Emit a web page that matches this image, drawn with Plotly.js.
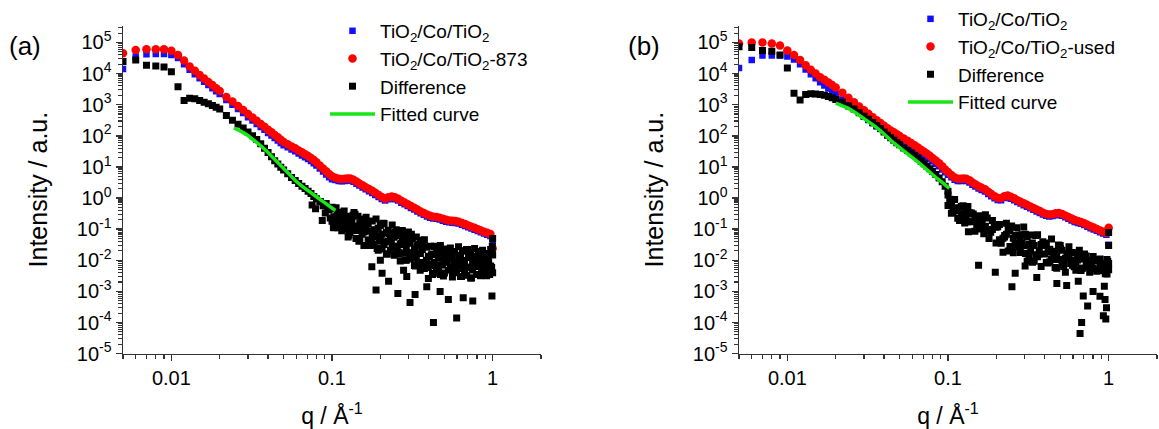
<!DOCTYPE html>
<html>
<head>
<meta charset="utf-8">
<script src="https://cdn.plot.ly/plotly-3.0.1.min.js"></script>
<style>
html,body{margin:0;padding:0;background:#fff;}
#chart{width:1159px;height:429px;}
</style>
</head>
<body>
<div id="chart"></div>
<script>
// ---------- shared q grid (Å^-1) used by the smooth curves ----------
const q = [0.005,0.006,0.007,0.008,0.009,0.010,0.011,0.012,0.013,0.014,0.015,0.016,0.017,0.018,0.019,0.020,
0.022,0.024,0.026,0.028,0.030,0.032,0.034,0.036,0.038,0.040,0.042,0.044,0.046,0.048,0.050,
0.053,0.056,0.059,0.062,0.065,0.068,0.071,0.074,0.077,0.080,0.084,0.088,0.092,0.096,0.100,
0.105,0.110,0.115,0.120,0.125,0.130,0.136,0.142,0.148,0.155,0.162,0.170,0.178,0.186,0.195,
0.204,0.214,0.224,0.235,0.246,0.258,0.270,0.283,0.296,0.310,0.325,0.340,0.356,0.373,0.390,
0.408,0.427,0.447,0.468,0.490,0.513,0.537,0.562,0.588,0.615,0.644,0.674,0.705,0.738,0.772,
0.808,0.845,0.884,0.925,0.968,1.000];

// ---------- panel (a) ----------
const aRef = [1.41e4,3.55e4,4.17e4,4.27e4,4.27e4,3.98e4,3.16e4,2.00e4,1.32e4,9.55e3,7.08e3,5.50e3,4.27e3,3.39e3,2.69e3,2.19e3,
1.41e3,1.00e3,724,537,398,309,240,191,155,123,102,85.1,70.8,58.9,50.1,
42.7,36.3,31.6,26.9,23.4,20.4,17.8,15.5,13.2,11.2,8.91,7.08,5.75,4.68,3.98,
3.80,3.55,3.47,3.55,3.63,3.63,3.31,2.88,2.51,2.19,1.91,1.66,1.45,1.26,1.07,
0.933,0.832,0.912,0.977,0.912,0.832,0.708,0.631,0.550,0.479,0.427,0.372,0.324,0.288,0.257,
0.234,0.219,0.214,0.204,0.186,0.174,0.166,0.162,0.158,0.151,0.138,0.126,0.115,0.105,0.0955,
0.0871,0.0794,0.0724,0.0661,0.0603,0.0355];
const a873 = [4.47e4,5.75e4,6.03e4,6.03e4,6.03e4,5.37e4,3.98e4,2.63e4,1.70e4,1.23e4,8.91e3,6.92e3,5.37e3,4.27e3,3.39e3,2.75e3,
1.78e3,1.26e3,912,676,501,389,302,240,195,155,129,107,89.1,74.1,63.1,
53.7,45.7,39.8,33.9,29.5,25.7,22.4,19.5,16.6,14.1,11.2,8.91,7.24,5.89,5.01,
4.47,4.17,4.07,4.17,4.27,4.27,3.89,3.39,2.95,2.57,2.24,1.95,1.70,1.48,1.26,
1.07,0.955,1.05,1.12,1.05,0.955,0.813,0.724,0.631,0.550,0.490,0.427,0.372,0.331,0.295,
0.269,0.251,0.245,0.234,0.214,0.200,0.191,0.186,0.182,0.174,0.158,0.145,0.132,0.120,0.110,
0.100,0.0912,0.0832,0.0759,0.0692,0.0240];
// difference on the first 46 q values (0.005 - 0.100)
const aDiff = [2.45e4,2.75e4,1.86e4,1.74e4,1.62e4,1.15e4,3.80e3,1.35e3,1.62e3,1.55e3,1.35e3,1.20e3,1.07e3,933,832,724,
447,316,234,178,132,100,75.9,55.0,39.8,28.8,21.4,15.8,12.3,9.77,7.94,
6.03,4.57,3.63,2.95,2.40,2.04,1.66,1.41,1.12,0.955,0.759,0.562,0.661,0.417,0.501];
// scattered difference at high q: readings of the cloud, two per q (upper / lower part)
const aBandQ = [0.100,0.103,0.106,0.109,0.112,0.115,0.119,0.122,0.126,0.129,0.133,0.137,0.141,0.145,0.149,0.154,0.158,0.163,0.168,
0.173,0.178,0.183,0.188,0.194,0.200,0.205,0.211,0.218,0.224,0.231,0.237,0.244,0.251,0.259,0.266,0.274,0.282,0.290,0.299,
0.307,0.316,0.326,0.335,0.345,0.355,0.365,0.376,0.387,0.398,0.410,0.422,0.434,0.447,0.460,0.473,0.487,0.501,0.516,0.531,
0.546,0.562,0.579,0.596,0.613,0.631,0.649,0.668,0.688,0.708,0.729,0.750,0.772,0.794,0.818,0.841,0.866,0.891,0.917,0.944,
0.972,1.000];
const aBandHi = [0.46,0.25,0.49,0.28,0.35,0.21,0.38,0.26,0.148,0.25,0.178,0.34,0.093,0.26,0.158,0.21,0.081,0.24,0.145,0.085,
0.182,0.095,0.21,0.107,0.132,0.069,0.151,0.078,0.093,0.048,0.135,0.055,0.095,0.062,0.032,0.091,0.059,0.023,0.081,0.037,
0.050,0.023,0.056,0.032,0.044,0.022,0.046,0.026,0.0135,0.028,0.016,0.028,0.017,0.012,0.030,0.018,0.0089,0.023,0.0141,0.025,
0.012,0.019,0.0091,0.027,0.0145,0.020,0.0098,0.022,0.0123,0.0174,0.0078,0.024,0.0135,0.019,0.0098,0.021,0.012,0.0166,0.0089,0.022,
0.0148];
const aBandLo = [0.18,0.11,0.18,0.11,0.17,0.089,0.105,0.12,0.056,0.078,0.089,0.123,0.050,0.123,0.048,0.069,0.030,0.107,0.045,0.030,
0.056,0.033,0.058,0.021,0.045,0.023,0.032,0.016,0.041,0.021,0.028,0.0145,0.028,0.018,0.0095,0.039,0.017,0.010,0.035,0.011,
0.017,0.0068,0.0115,0.0078,0.0166,0.0085,0.0054,0.010,0.0059,0.0076,0.0035,0.0085,0.0047,0.0059,0.0035,0.0071,0.0039,0.0112,0.0048,0.0059,
0.0029,0.0074,0.0040,0.0065,0.0030,0.0078,0.0043,0.0033,0.0060,0.0027,0.0049,0.0098,0.0035,0.0063,0.0032,0.0051,0.0071,0.0032,0.0048,0.0066,
0.0040];
const aMid1Q = [0.1045,0.1105,0.117,0.124,0.131,0.139,0.147,0.156,0.166,0.176,0.186,0.197,0.208,0.221,0.234,0.248,0.262,0.278,0.295,0.312,
0.331,0.350,0.370,0.392,0.416,0.440,0.466,0.494,0.523,0.554,0.587,0.622,0.658,0.698,0.739,0.783,0.830,0.878,0.930,0.986];
const aMid1I = [0.219,0.331,0.100,0.204,0.100,0.302,0.041,0.093,0.166,0.036,0.093,0.041,0.155,0.0158,0.042,0.078,0.0158,0.043,0.0174,0.068,
0.0065,0.017,0.0295,0.0062,0.0151,0.0068,0.0275,0.0031,0.0087,0.0174,0.0041,0.0117,0.0054,0.022,0.0027,0.0078,0.0151,0.0042,0.011,0.0059];
const aMid2Q = [0.1075,0.1135,0.1205,0.1275,0.135,0.143,0.1515,0.1605,0.1705,0.1805,0.191,0.2025,0.2145,0.2275,0.2405,0.255,0.270,0.286,0.303,0.321,
0.340,0.360,0.381,0.404,0.428,0.453,0.480,0.508,0.538,0.570,0.604,0.640,0.678,0.718,0.761,0.806,0.854,0.904,0.958,0.993];
const aMid2I = [0.316,0.117,0.182,0.065,0.282,0.091,0.155,0.155,0.044,0.079,0.024,0.145,0.039,0.071,0.072,0.019,0.035,0.0102,0.062,0.0162,
0.0295,0.029,0.0074,0.0129,0.0038,0.0245,0.0072,0.0141,0.0155,0.0046,0.0091,0.0030,0.0204,0.0060,0.0123,0.0135,0.0046,0.0089,0.0035,0.0182];
const aOutQ = [0.0752,0.0790,0.0846,0.0870,0.0908,0.0940,0.0975,0.102,0.177,0.200,0.205,0.225,0.188,0.257,0.279,0.292,0.329,0.306,0.389,0.428,
0.471,0.530,0.597,0.656,0.752,0.990,0.354,0.398,1.000,0.995];
const aOutI = [0.60,0.45,0.77,0.19,0.33,0.42,0.23,0.112,6.2e-3,1.0e-2,3.8e-3,2.1e-3,1.1e-3,8.5e-4,4.8e-3,3.0e-3,7.9e-4,4.4e-4,1.4e-3,1.0e-4,
1.0e-3,5.5e-4,1.4e-4,6.2e-4,4.9e-4,7.1e-4,4.8e-3,2.6e-3,0.05,0.028];
const aFitQ = [0.0245,0.027,0.030,0.033,0.036,0.039,0.042,0.045,0.048,0.051,0.055,0.060,0.065,0.070,0.076,0.082,0.089,0.097,0.105];
const aFitI = [178,141,102,70.8,47.9,33.1,22.4,15.1,10.7,7.76,5.25,3.39,2.40,1.78,1.32,1.00,0.741,0.537,0.398];

// ---------- panel (b) ----------
const bRef = [1.51e4,2.75e4,3.80e4,3.80e4,3.80e4,3.55e4,2.82e4,2.00e4,1.35e4,9.55e3,7.08e3,5.25e3,4.17e3,3.31e3,2.69e3,2.19e3,
1.48e3,1.02e3,741,550,417,324,251,200,166,138,117,102,89.1,79.4,70.8,
60.3,51.3,43.7,37.2,31.6,26.9,23.4,20.4,17.8,15.1,12.6,10.5,8.32,6.76,5.62,
4.68,3.89,3.55,3.55,3.63,3.55,3.16,2.69,2.34,2.04,1.82,1.62,1.35,1.15,0.977,
0.871,0.851,1.00,1.05,0.955,0.851,0.741,0.661,0.589,0.525,0.468,0.417,0.372,0.331,0.295,
0.269,0.257,0.263,0.282,0.288,0.269,0.240,0.214,0.191,0.170,0.158,0.148,0.135,0.120,0.107,
0.0977,0.0891,0.0794,0.0724,0.0661,0.0316];
const bUsed = [9.33e4,1.00e5,1.00e5,9.33e4,7.94e4,5.50e4,3.98e4,2.75e4,1.86e4,1.32e4,1.00e4,7.59e3,6.31e3,5.13e3,4.27e3,3.55e3,
2.40e3,1.66e3,1.20e3,871,661,513,398,316,257,209,174,148,129,112,97.7,
81.3,69.2,58.9,50.1,41.7,35.5,30.9,26.3,22.9,19.5,16.2,13.2,10.5,8.32,6.92,
5.50,4.57,4.17,4.17,4.27,4.17,3.72,3.16,2.75,2.40,2.14,1.91,1.58,1.35,1.15,
1.00,0.977,1.15,1.20,1.10,0.977,0.851,0.759,0.676,0.603,0.537,0.479,0.427,0.380,0.339,
0.309,0.295,0.302,0.324,0.331,0.309,0.275,0.245,0.219,0.195,0.182,0.170,0.155,0.138,0.123,
0.112,0.102,0.0912,0.0832,0.0759,0.110];
const bDiff = [7.24e4,6.92e4,5.50e4,5.25e4,3.98e4,1.51e4,2.34e3,1.41e3,2.14e3,2.24e3,2.19e3,2.14e3,2.00e3,1.82e3,1.66e3,1.48e3,
1.20e3,912,724,550,427,339,269,214,170,132,105,87.1,72.4,60.3,51.3,
40.7,33.9,28.2,23.4,19.5,15.1,12.6,10.5,8.71,7.24,5.75,4.37,3.31,2.40,1.66];
const bBandQ = [0.100,0.105,0.110,0.115,0.121,0.127,0.133,0.140,0.147,0.155,0.163,0.171,0.180,0.189,0.199,0.209,0.220,0.231,0.243,0.255,
0.268,0.282,0.296,0.311,0.327,0.344,0.361,0.380,0.399,0.420,0.441,0.464,0.487,0.512,0.538,0.566,0.595,0.625,0.657,0.690,
0.725,0.762,0.801,0.842,0.885,0.930,0.977,1.000];
const bBandHi = [1.26,0.617,0.891,0.490,0.537,0.347,0.537,0.331,0.191,0.269,0.186,0.288,0.087,0.191,0.115,0.141,0.051,0.155,0.089,0.051,
0.110,0.055,0.117,0.056,0.065,0.030,0.066,0.032,0.036,0.0186,0.048,0.0195,0.031,0.021,0.0117,0.027,0.0178,0.0087,0.021,0.0123,
0.0138,0.0083,0.0132,0.0095,0.011,0.0074,0.0105,0.0079];
const bBandLo = [0.575,0.324,0.398,0.224,0.295,0.158,0.174,0.174,0.085,0.102,0.107,0.123,0.050,0.098,0.036,0.046,0.018,0.068,0.0275,0.0174,
0.033,0.0178,0.0295,0.0093,0.020,0.0093,0.0129,0.0063,0.0158,0.0081,0.011,0.0058,0.0105,0.0071,0.0041,0.0132,0.0069,0.0048,0.0117,0.0055,
0.0071,0.0041,0.0055,0.0044,0.0066,0.0046,0.0036,0.0050];
const bMid1Q = [0.225,0.237,0.249,0.262,0.275,0.289,0.303,0.319,0.335,0.352,0.370,0.389,0.409,0.430,0.452,0.475,0.500,0.525,0.552,0.580,
0.610,0.641,0.673,0.707,0.743,0.781,0.821,0.863,0.907,0.953];
const bMid1I = [0.056,0.105,0.0234,0.063,0.0275,0.035,0.068,0.0126,0.036,0.0151,0.0204,0.039,0.0085,0.0224,0.0105,0.0135,0.024,0.0063,0.0155,0.0078,
0.0098,0.0155,0.0055,0.011,0.0065,0.0074,0.0105,0.0047,0.0078,0.0050];
const bMid2Q = [0.1025,0.1075,0.1125,0.118,0.124,0.130,0.1365,0.1435,0.151,0.159,0.167,0.1755,0.1845,0.194,0.204,0.2145,0.2255,0.237,0.249,0.2615,
0.275,0.289,0.3035,0.319,0.3355,0.3525,0.3705,0.3895,0.4095,0.4305,0.4525,0.4755,0.4995,0.525,0.552,0.5805,0.610,0.641,0.6735,0.7075,
0.7435,0.7815,0.8215,0.8635,0.9075,0.9535,0.988];
const bMid2I = [0.912,0.363,0.447,0.191,0.562,0.240,0.339,0.309,0.117,0.170,0.071,0.229,0.079,0.123,0.120,0.035,0.063,0.020,0.126,0.035,
0.065,0.066,0.0166,0.032,0.0087,0.063,0.0158,0.030,0.031,0.0089,0.0162,0.0055,0.030,0.0098,0.017,0.017,0.0062,0.0102,0.0047,0.0158,
0.0069,0.0098,0.0098,0.0050,0.0069,0.0037,0.0091];
const bOutQ = [0.134,0.155,0.197,0.250,0.302,0.262,0.357,0.476,0.548,0.647,0.695,0.740,0.800,0.883,0.679,0.664,0.927,0.960,0.970,0.940,0.950,1.000,1.000];
const bOutI = [0.083,6.9e-3,4.1e-3,1.4e-3,6.5e-3,3.8e-3,2.8e-3,1.8e-3,1.55e-3,2.1e-3,7.1e-4,3.4e-4,1.0e-3,7.0e-4,1.0e-4,4.4e-5,1.66e-4,1.3e-4,3.0e-4,1.45e-3,5.5e-4,0.078,0.030];
const bFitQ = [0.020,0.022,0.024,0.026,0.029,0.032,0.035,0.038,0.042,0.046,0.050,0.055,0.060,0.066,0.072,0.079,0.086,0.094,0.102];
const bFitI = [1.12e3,933,759,589,407,288,204,145,89.1,58.9,41.7,28.8,20.4,13.5,9.12,6.31,4.17,2.88,2.04];

// ---------- ticks / labels ----------
const xTickVals = [0.01, 0.1, 1];
const xTickText = ['0.01', '0.1', '1'];
const yTickVals = [1e-5,1e-4,1e-3,1e-2,1e-1,1e0,1e1,1e2,1e3,1e4,1e5];
const yTickText = ['10<sup>-5</sup>','10<sup>-4</sup>','10<sup>-3</sup>','10<sup>-2</sup>','10<sup>-1</sup>','10<sup>0</sup>',
                   '10<sup>1</sup>','10<sup>2</sup>','10<sup>3</sup>','10<sup>4</sup>','10<sup>5</sup>'];
const namesA = ['TiO<sub>2</sub>/Co/TiO<sub>2</sub>', 'TiO<sub>2</sub>/Co/TiO<sub>2</sub>-873', 'Difference', 'Fitted curve'];
const namesB = ['TiO<sub>2</sub>/Co/TiO<sub>2</sub>', 'TiO<sub>2</sub>/Co/TiO<sub>2</sub>-used', 'Difference', 'Fitted curve'];

const FONT = 'Liberation Sans, Arial, Helvetica, sans-serif';
const BLUE = '#1010ff', RED = '#ff0000', BLACK = '#000000', GREEN = '#19e619';

function panelTraces(xa, ya, leg, names, ref, smp, diff, cloudQ, cloudI, fitQ, fitI) {
  const dq = q.slice(0, diff.length).concat(cloudQ);
  const di = diff.concat(cloudI);
  return [
    {x: q, y: ref, xaxis: xa, yaxis: ya, legend: leg, name: names[0], type: 'scatter', mode: 'markers',
     marker: {symbol: 'square', size: 6.5, color: BLUE}},
    {x: q, y: smp, xaxis: xa, yaxis: ya, legend: leg, name: names[1], type: 'scatter', mode: 'markers',
     marker: {symbol: 'circle', size: 8.5, color: RED}},
    {x: dq, y: di, xaxis: xa, yaxis: ya, legend: leg, name: names[2], type: 'scatter', mode: 'markers',
     marker: {symbol: 'square', size: 7, color: BLACK}},
    {x: fitQ, y: fitI, xaxis: xa, yaxis: ya, legend: leg, name: names[3], type: 'scatter', mode: 'lines',
     line: {color: GREEN, width: 3.5}}
  ];
}

const traces = [].concat(
  panelTraces('x', 'y', 'legend', namesA, aRef, a873, aDiff,
    aBandQ.concat(aBandQ, aMid1Q, aMid2Q, aOutQ), aBandHi.concat(aBandLo, aMid1I, aMid2I, aOutI), aFitQ, aFitI),
  panelTraces('x2', 'y2', 'legend2', namesB, bRef, bUsed, bDiff,
    bBandQ.concat(bBandQ, bMid1Q, bMid2Q, bOutQ), bBandHi.concat(bBandLo, bMid1I, bMid2I, bOutI), bFitQ, bFitI)
);

const AX = '#333333';
function xAxis(domain, anchor) {
  return {
    type: 'log', domain: domain, anchor: anchor,
    range: [Math.log10(0.005), Math.log10(2)],
    tickmode: 'array', tickvals: xTickVals, ticktext: xTickText,
    ticks: 'outside', ticklen: 6, tickwidth: 1.5, tickcolor: AX,
    showline: true, linecolor: AX, linewidth: 1.5,
    showgrid: false, zeroline: false,
    minor: {dtick: 'D1', ticks: 'outside', ticklen: 4, tickwidth: 1.2, tickcolor: AX, showgrid: false},
    tickfont: {family: FONT, size: 20, color: '#000'},
    title: {text: 'q / Å<sup>-1</sup>', font: {family: FONT, size: 23, color: '#000'}, standoff: 21}
  };
}
function yAxis(domain, anchor) {
  return {
    type: 'log', domain: domain, anchor: anchor,
    range: [-5, 5.54],
    tickmode: 'array', tickvals: yTickVals, ticktext: yTickText,
    ticks: 'outside', ticklen: 6, tickwidth: 1.5, tickcolor: AX,
    showline: true, linecolor: AX, linewidth: 1.5,
    showgrid: false, zeroline: false,
    minor: {dtick: 'D1', ticks: 'outside', ticklen: 3.5, tickwidth: 1.1, tickcolor: AX, showgrid: false},
    tickfont: {family: FONT, size: 20, color: '#000'},
    title: {text: 'Intensity / a.u.', font: {family: FONT, size: 25, color: '#000'}, standoff: 22}
  };
}

const W = 1159, H = 429;
const yDom = [(H - 352) / H, (H - 17) / H];
const legFont = {family: FONT, size: 19, color: '#000'};
const layout = {
  width: W, height: H,
  margin: {l: 0, r: 0, t: 0, b: 0},
  paper_bgcolor: '#ffffff', plot_bgcolor: 'rgba(0,0,0,0)',
  font: {family: FONT, color: '#000'},
  showlegend: true,
  xaxis: xAxis([123 / W, 541 / W], 'y'),
  yaxis: yAxis(yDom, 'x'),
  xaxis2: xAxis([739 / W, 1157 / W], 'y2'),
  yaxis2: yAxis(yDom, 'x2'),
  legend: {x: 325 / W, y: 1 - 3 / H, xanchor: 'left', yanchor: 'top', bgcolor: 'rgba(0,0,0,0)',
           font: legFont, tracegroupgap: 0, itemwidth: 45},
  legend2: {x: 903 / W, y: 1.022, xanchor: 'left', yanchor: 'top', bgcolor: 'rgba(0,0,0,0)',
            font: legFont, tracegroupgap: 0, itemwidth: 45},
  annotations: [
    {text: '(a)', xref: 'paper', yref: 'paper', x: 25 / W, y: 1 - 38 / H, xanchor: 'center', yanchor: 'middle',
     showarrow: false, font: {family: FONT, size: 26, color: '#000'}},
    {text: '(b)', xref: 'paper', yref: 'paper', x: 644 / W, y: 1 - 38 / H, xanchor: 'center', yanchor: 'middle',
     showarrow: false, font: {family: FONT, size: 26, color: '#000'}}
  ]
};

Plotly.newPlot('chart', traces, layout, {staticPlot: true, displayModeBar: false});
</script>
</body>
</html>
